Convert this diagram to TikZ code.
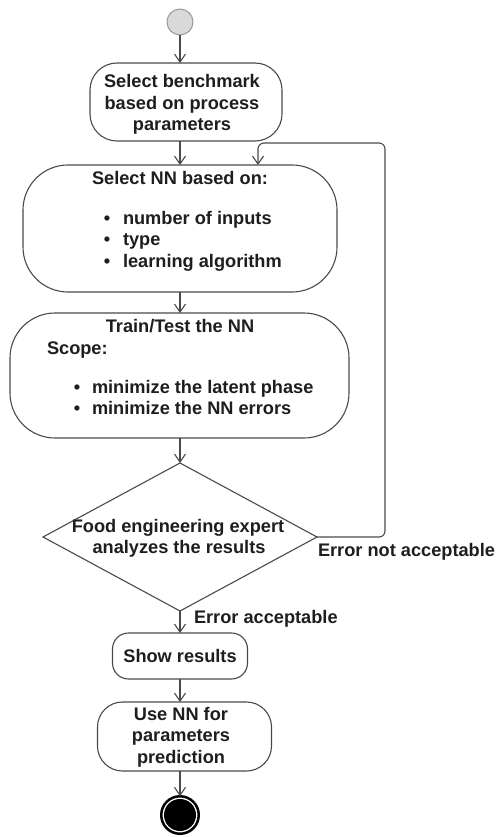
\documentclass[tikz,border=0pt]{standalone}
\usepackage{fontspec}
\setmainfont{Liberation Sans}
\usetikzlibrary{shapes.geometric,arrows.meta}
\definecolor{edge}{HTML}{4A4A4A}
\definecolor{ink}{HTML}{1E1E1E}
\definecolor{startfill}{HTML}{D9D9D9}
\definecolor{startline}{HTML}{9A9A9A}
\begin{document}
\begin{tikzpicture}[x=1pt,y=-1pt,
  every node/.style={inner sep=0pt, outer sep=0pt},
  activity/.style={draw=edge, line width=1.1pt, fill=white},
  lbl/.style={text=ink, font=\fontsize{18.2}{22}\selectfont\bfseries, anchor=base},
  lblw/.style={lbl, anchor=base west},
  flow/.style={draw=edge, line width=1.1pt, -{Straight Barb[length=8pt,width=11pt]}},
]
\useasboundingbox (0,0) rectangle (496,837);

% shapes
\node[circle, draw=startline, fill=startfill, line width=1pt, minimum size=26pt] (start) at (180,22) {};
\node[activity, rounded corners=27pt, minimum width=192pt, minimum height=78pt] (b1) at (186,102) {};
\node[activity, rounded corners=45pt, minimum width=314pt, minimum height=127pt] (b2) at (180,228.5) {};
\node[activity, rounded corners=45pt, minimum width=339pt, minimum height=125pt] (b3) at (179.5,375.5) {};
\node[diamond, draw=edge, line width=1.1pt, minimum width=274pt, minimum height=148pt] (dec) at (180,537) {};
\node[activity, rounded corners=16pt, minimum width=135pt, minimum height=46pt] (b4) at (180,656) {};
\node[activity, rounded corners=25pt, minimum width=174pt, minimum height=69pt] (b5) at (184.5,736.5) {};
\node[circle, draw=black, line width=2.5pt, minimum size=37.5pt] (endo) at (180,815) {};
\node[circle, fill=black, minimum size=32pt] (endi) at (180,815) {};

% texts
\node[lbl] (t1a) at (182,88) {Select benchmark};
\node[lbl] (t1b) at (182,109.5) {based on process};
\node[lbl] (t1c) at (182,131) {parameters};

\node[lbl] (t2) at (180,184) {Select NN based on:};
\node[lbl] (d2a) at (107,224) {•};
\node[lbl] (d2b) at (107,245.5) {•};
\node[lbl] (d2c) at (107,267) {•};
\node[lblw] (t2a) at (123,224) {number of inputs};
\node[lblw] (t2b) at (123,245.5) {type};
\node[lblw] (t2c) at (123,267) {learning algorithm};

\node[lbl] (t3) at (180,332) {Train/Test the NN};
\node[lblw] (t3s) at (47,354) {Scope:};
\node[lbl] (d3a) at (77,393) {•};
\node[lbl] (d3b) at (77,414.5) {•};
\node[lblw] (t3a) at (92,393) {minimize the latent phase};
\node[lblw] (t3b) at (92,414.5) {minimize the NN errors};

\node[lbl] (td1) at (178,532) {Food engineering expert};
\node[lbl] (td2) at (179,553) {analyzes the results};

\node[lblw] (nok) at (318,556) {Error not acceptable};
\node[lblw] (ok) at (194,623) {Error acceptable};

\node[lbl] (t4) at (180,662) {Show results};
\node[lbl] (t5a) at (181,720) {Use NN for};
\node[lbl] (t5b) at (181,741.5) {parameters};
\node[lbl] (t5c) at (181,763) {prediction};

% connectors
\draw[flow] (start.south) -- (start.south |- b1.north);
\draw[flow] (b1.south -| start) -- (b2.north -| start);
\draw[flow] (b2.south -| start) -- (b3.north -| start);
\draw[flow] (b3.south -| dec) -- (dec.north);
\draw[flow] (dec.south) -- (b4.north);
\draw[flow] (b4.south) -- (b4.south |- b5.north);
\draw[flow] (endo |- b5.south) -- (endo.north);

\coordinate (loopr) at (385,143);
\coordinate (loopl) at (258,143);
\draw[flow, rounded corners=6pt] (dec.east) -- (dec.east -| loopr) -- (loopr) -- (loopl) -- (loopl |- b2.north);
\end{tikzpicture}
\end{document}
